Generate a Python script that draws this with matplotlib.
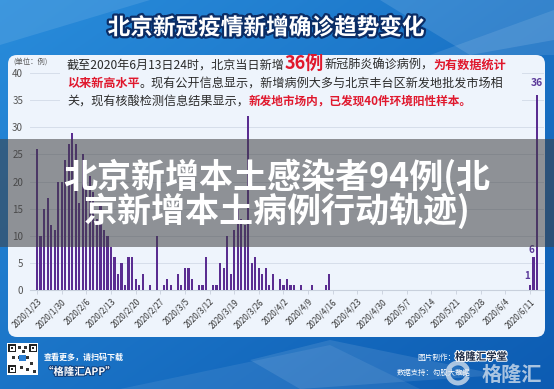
import numpy as np
import matplotlib
matplotlib.use('Agg')
import matplotlib.pyplot as plt
from matplotlib.patches import FancyBboxPatch, Rectangle, Polygon, Arc
import matplotlib.patheffects as pe

plt.rcParams['font.family'] = ['Noto Sans CJK SC', 'DejaVu Sans']

# 每日新增确诊 (2020/1/23 - 2020/6/13)
jan = [26, 10, 15, 17, 12, 11, 20, 20, 24]
feb = [27, 29, 27, 16, 25, 23, 21, 18, 13, 16, 11, 10, 8, 6, 3, 5, 1, 6, 6, 2,
       1, 3, 0, 1, 0, 10, 0, 1, 2]
mar = [1, 0, 3, 1, 4, 4, 2, 0, 1, 1, 6, 0, 1, 1, 5, 4, 10, 3, 11, 15,
       13, 12, 32, 5, 6, 4, 3, 4, 1, 3, 0]
apr = [2, 1, 2, 1, 1, 0, 1, 0, 0, 1, 0, 0, 0, 1, 3] + [0] * 15
may = [0] * 31
jun = [0] * 10 + [1, 6, 36]
values = jan + feb + mar + apr + may + jun
days = np.arange(len(values))

tick_days = list(range(0, 141, 7))
tick_labels = ['2020/1/23', '2020/1/30', '2020/2/6', '2020/2/13', '2020/2/20',
               '2020/2/27', '2020/3/5', '2020/3/12', '2020/3/19', '2020/3/26',
               '2020/4/2', '2020/4/9', '2020/4/16', '2020/4/23', '2020/4/30',
               '2020/5/7', '2020/5/14', '2020/5/21', '2020/5/28', '2020/6/4',
               '2020/6/11']

W, H = 554, 389
fig = plt.figure(figsize=(W / 100, H / 100), dpi=100)

# 背景
bg = fig.add_axes([0, 0, 1, 1])
bg.set_xlim(0, W)
bg.set_ylim(H, 0)
bg.axis('off')
gx = np.linspace(0, 1, 200)
gy = np.linspace(0, 1, 140)
GX, GY = np.meshgrid(gx, gy)
t = 0.5 * GX + 0.5 * GY
c0 = np.array([0.16, 0.55, 0.86])
c1 = np.array([0.05, 0.36, 0.70])
grad = c0[None, None, :] * (1 - t[..., None]) + c1[None, None, :] * t[..., None]
bg.imshow(grad, extent=[0, W, H, 0], aspect='auto', zorder=0)
for poly, a in [([(0, 0), (150, 0), (0, 45)], 0.10),
                ([(380, 0), (554, 0), (554, 40), (470, 55)], 0.12),
                ([(430, 55), (554, 10), (554, 55)], 0.10),
                ([(120, 389), (330, 345), (420, 389)], 0.08),
                ([(250, 360), (330, 340), (500, 375), (300, 389)], 0.10)]:
    bg.add_patch(Polygon(poly, closed=True, fc='white', ec='none', alpha=a, zorder=1))

# 面板
bg.add_patch(FancyBboxPatch((8, 55), 537, 282, boxstyle='round,pad=0,rounding_size=9',
                            fc='#EEF4FC', ec='none', zorder=2))

# 标题
bg.text(266, 28, '北京新冠疫情新增确诊趋势变化', color='white', fontsize=16.3,
        fontweight='bold', ha='center', va='center', zorder=5,
        path_effects=[pe.withStroke(linewidth=3.2, foreground='#0B2D66')])

bg.text(13, 62, '(单位：例)', color='#555555', fontsize=5.3, ha='left', va='center', zorder=5)

# 页脚
bg.add_patch(Rectangle((7, 343), 31, 32, fc='white', ec='none', zorder=3))
for qx, qy in [(8, 344), (29, 344), (8, 365)]:
    bg.add_patch(Rectangle((qx, qy), 8, 8, fc='#222222', ec='none', zorder=4))
    bg.add_patch(Rectangle((qx + 1.5, qy + 1.5), 5, 5, fc='white', ec='none', zorder=4))
    bg.add_patch(Rectangle((qx + 2.8, qy + 2.8), 2.4, 2.4, fc='#222222', ec='none', zorder=4))
for qx, qy in [(18, 346), (22, 350), (18, 356), (26, 356), (30, 362), (20, 366),
               (26, 368), (33, 370), (12, 356), (24, 346)]:
    bg.add_patch(Rectangle((qx, qy), 3, 3, fc='#333333', ec='none', zorder=4))
bg.add_patch(Rectangle((19, 355), 7, 6, fc='#2A7FD4', ec='none', zorder=4))
bg.text(44, 357, '查看更多，请扫码下载', color='white', fontsize=5.8, fontweight='bold',
        style='italic', ha='left', va='center', zorder=5)
bg.text(43, 372, '“格隆汇APP”', color='white', fontsize=7.5, fontweight='bold',
        style='italic', ha='left', va='center', zorder=5,
        path_effects=[pe.withStroke(linewidth=1.5, foreground='#123F7A')])
bg.text(455, 358, '图片制作：', color='white', fontsize=5.5, ha='right', va='center', zorder=5)
bg.text(455, 357, '格隆汇学堂', color='#1C2A44', fontsize=7.5, fontweight='bold',
        ha='left', va='center', zorder=5,
        path_effects=[pe.withStroke(linewidth=1.5, foreground='white')])
bg.text(397, 373, '数据支持：勾股大数据', color='white', fontsize=5.3, ha='left',
        va='center', zorder=5)
bg.add_patch(Arc((458, 373), 20, 20, theta1=20, theta2=340, color='#DDE6F0',
                 lw=3.5, alpha=0.75, zorder=6))
bg.add_patch(Rectangle((458, 371), 9, 4, fc='#DDE6F0', ec='none', alpha=0.75, zorder=6))
bg.text(512, 374, '格隆汇', color='#DDE6F0', fontsize=14.5, fontweight='bold',
        ha='center', va='center', alpha=0.75, zorder=6)

# 柱状图
ax = fig.add_axes([30 / W, (H - 290) / H, 514 / W, 217 / H])
ax.patch.set_alpha(0)
ax.bar(days, values, width=0.62, color='#5A2D91', zorder=3)
ax.set_xlim(-2, 144)
ax.set_ylim(0, 40)
ax.set_yticks(range(0, 41, 5))
ax.grid(axis='y', color='#D6DEEA', linewidth=0.7, zorder=0)
ax.tick_params(axis='y', length=0, pad=5, labelsize=7, labelcolor='#555555')
ax.set_xticks(tick_days)
ax.set_xticklabels(tick_labels, rotation=45, ha='right', rotation_mode='anchor',
                   fontsize=5.8, color='#333333')
ax.tick_params(axis='x', length=3, width=0.6, color='#C8D0DC', pad=2)
for s in ['top', 'right', 'left']:
    ax.spines[s].set_visible(False)
ax.spines['bottom'].set_color('#C8D0DC')
ax.spines['bottom'].set_linewidth(0.8)
ax.text(days[-1], values[-1] + 1.3, str(values[-1]), color='#5B3A9A', fontsize=7.5,
        fontweight='bold', ha='center', va='bottom')
ax.text(days[-2] - 0.6, values[-2] + 0.4, str(values[-2]), color='#5B3A9A', fontsize=7,
        fontweight='bold', ha='center', va='bottom')
ax.text(days[-3] - 0.8, values[-3] + 0.6, str(values[-3]), color='#5B3A9A', fontsize=7,
        fontweight='bold', ha='center', va='bottom')

# 说明文字、灰色遮罩和大标题
ov = fig.add_axes([0, 0, 1, 1])
ov.set_xlim(0, W)
ov.set_ylim(H, 0)
ov.axis('off')
ov.patch.set_alpha(0)
ov.add_patch(Rectangle((60, 57), 462, 56, fc='#EEF4FC', ec='none', zorder=1))

renderer = fig.canvas.get_renderer()


def rich_line(x, y, parts):
    for s, color, size, weight in parts:
        txt = ov.text(x, y, s, color=color, fontsize=size, fontweight=weight,
                      ha='left', va='baseline', zorder=5)
        x += txt.get_window_extent(renderer).width


dark = '#2B2B2B'
red = '#E0182D'
rich_line(67, 69, [('截至2020年6月13日24时，北京当日新增', dark, 8.7, 'medium'),
                   ('36例', red, 13, 'bold'),
                   ('新冠肺炎确诊病例，', dark, 8.7, 'medium'),
                   ('为有数据统计', red, 8.7, 'bold')])
rich_line(67, 87, [('以来新高水平', red, 8.7, 'bold'),
                   ('。现有公开信息显示，新增病例大多与北京丰台区新发地批发市场相', dark, 8.7, 'medium')])
rich_line(67, 105, [('关，现有核酸检测信息结果显示，', dark, 8.7, 'medium'),
                    ('新发地市场内，已发现40件环境阳性样本。', red, 8.4, 'bold')])

ov.add_patch(Rectangle((0, 139), W, 108, fc=(0.25, 0.25, 0.26), ec='none',
                       alpha=0.55, zorder=6))
ov.text(277, 177, '北京新增本土感染者94例(北', color='white', fontsize=24.5,
        fontweight='bold', ha='center', va='center', zorder=7)
ov.text(277, 211, '京新增本土病例行动轨迹)', color='white', fontsize=24.5,
        fontweight='bold', ha='center', va='center', zorder=7)

fig.savefig('out.png', dpi=100)
